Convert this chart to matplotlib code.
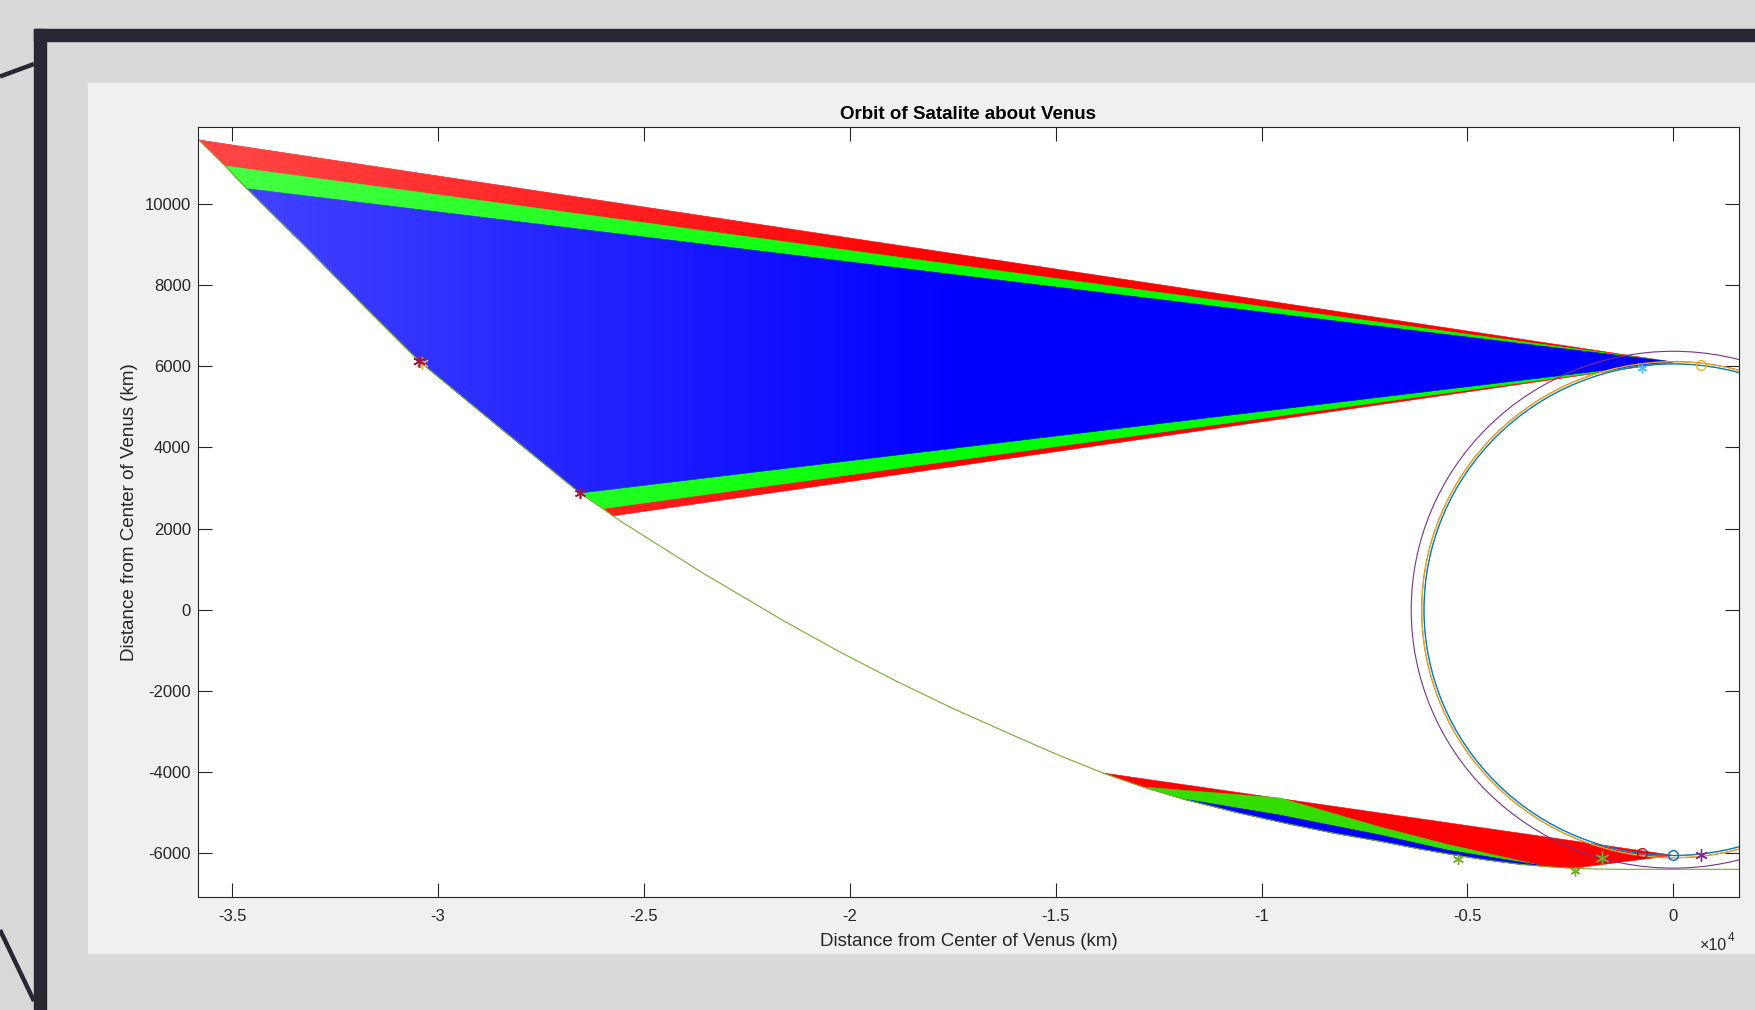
import numpy as np
import matplotlib
matplotlib.use('Agg')
import matplotlib.pyplot as plt
from matplotlib.patches import Rectangle, Circle, Polygon

plt.rcParams['font.family'] = ['Liberation Sans', 'DejaVu Sans']
plt.rcParams['axes.unicode_minus'] = False

# MATLAB default colour order
M_BLUE = (0.000, 0.447, 0.741)
M_ORANGE = (0.850, 0.325, 0.098)
M_YELLOW = (0.929, 0.694, 0.125)
M_PURPLE = (0.494, 0.184, 0.556)
M_GREEN = (0.466, 0.674, 0.188)
M_CYAN = (0.301, 0.745, 0.933)
M_DRED = (0.635, 0.078, 0.184)

# Satellite trajectory (km)
traj_x = [-35806, -35170, -34640, -33135, -31799, -30463, -28508, -26553, -25995,
          -25752, -25533, -23565, -21598, -20238, -18878, -17518, -16158, -15005,
          -13851, -12879, -11908, -10608, -9309, -8216, -7123, -6200, -5278,
          -4500, -3723, -3080, -2436, -1865, -1295, 1596]
traj_y = [11569, 10929, 10370, 8860, 7480, 6126, 4490, 2874, 2490,
          2310, 2160, 900, -278, -1042, -1756, -2422, -3037, -3550,
          -4022, -4367, -4662, -4994, -5285, -5510, -5704, -5887, -6049,
          -6170, -6271, -6328, -6369, -6387, -6394, -6394]

# Upper line-of-sight fan: apex and trajectory range of each colour
up_apex = (0, 6100)
up_red = (-35806, -25752)
up_green = (-35170, -25995)
up_blue = (-34640, -26553)

# Lower fan
low_apex = (0, -6050)
low_red = (-13851, -2436)
low_green = (-12879, -3723)
low_blue = (-11908, -3723)
band_end = (-3237, -6296)
green_top_x = [-9552, -7123, -5496]
green_top_y = [-4638, -5352, -5778]
blue_top_x = [-9552, -7123, -5496]
blue_top_y = [-5060, -5549, -5919]

# Orbit circles about the centre of Venus (km)
circle_r = [6365, 6112, 6105, 6060, 6052]
circle_c = [M_PURPLE, M_ORANGE, M_YELLOW, M_CYAN, M_BLUE]

# Point markers
mk_x = [-30390, -30463, -30463, -26553, -26553, -760, 680, -760, 0, 680, -1735, -2380, -5230]
mk_y = [6070, 6126, 6126, 2874, 2874, 5950, 6024, -6000, -6050, -6050, -6124, -6443, -6142]
mk_c = [M_YELLOW, M_PURPLE, M_DRED, M_PURPLE, M_DRED, M_CYAN, M_YELLOW, M_DRED, M_BLUE,
        M_PURPLE, M_GREEN, M_GREEN, M_GREEN]
mk_m = ['*', '*', '*', '*', '*', '*', 'o', 'o', 'o', '*', '*', '*', '*']
mk_s = [9, 9, 9, 8, 8, 7, 7, 7, 7, 9, 10, 7, 8]

xticks = [-35000, -30000, -25000, -20000, -15000, -10000, -5000, 0]
xtick_labels = ['-3.5', '-3', '-2.5', '-2', '-1.5', '-1', '-0.5', '0']
yticks = [-6000, -4000, -2000, 0, 2000, 4000, 6000, 8000, 10000]

XLIM = (-35830, 1596)
YLIM = (-7076, 11889)

W, H = 1756, 1010
fig = plt.figure(figsize=(W / 100, H / 100), dpi=100)

# Slide background drawn in pixel coordinates
bg = fig.add_axes([0, 0, 1, 1])
bg.set_xlim(0, W)
bg.set_ylim(H, 0)
bg.axis('off')
bg.add_patch(Rectangle((0, 0), W, H, color='#d9d9d9'))
frame = '#282832'
bg.add_patch(Rectangle((34, 29), W - 34, 12, color=frame))
bg.add_patch(Rectangle((34, 29), 12, H - 29, color=frame))
bg.plot([0, 34], [76.5, 64], color=frame, lw=3.2, solid_capstyle='butt')
bg.plot([0, 34], [930, 1001], color=frame, lw=3.2, solid_capstyle='butt')
bg.add_patch(Rectangle((88, 83), W - 88, 953 - 83, color='#f0f0f0'))
bg.text(1727, 950, '\u00d710', fontsize=11.5, color='#262626', ha='right', va='baseline')
bg.text(1728, 941, '4', fontsize=8.5, color='#262626', ha='left', va='baseline')

ax = fig.add_axes([198 / W, 1 - 897 / H, 1541 / W, 770 / H])
ax.set_facecolor('white')


def curve_pts(x0, x1):
    return [(x, y) for x, y in zip(traj_x, traj_y) if x0 <= x <= x1]


def fan(apex, rng, color):
    pts = [apex] + curve_pts(*rng)
    ax.add_patch(Polygon(pts, closed=True, facecolor=color, edgecolor=color,
                         lw=0.4, zorder=1))


def band(rng, top_x, top_y, color):
    pts = curve_pts(*rng) + [band_end] + list(zip(top_x, top_y))[::-1]
    ax.add_patch(Polygon(pts, closed=True, facecolor=color, edgecolor=color,
                         lw=0.4, zorder=1))


fan(up_apex, up_red, '#ff0000')
fan(up_apex, up_green, '#00ff00')
fan(up_apex, up_blue, '#0000ff')

# the far end of the upper fan is made of separate thin lines, so it reads lighter
gx, gy = np.meshgrid(np.linspace(*XLIM, 400), np.linspace(*YLIM, 200))
sheen = np.ones(gx.shape + (4,))
sheen[..., 3] = 0.27 * np.clip((-gx - 17000) / 18000, 0, 1)
im = ax.imshow(sheen, extent=(*XLIM, *YLIM), origin='lower', aspect='auto',
               interpolation='bilinear', zorder=1.5)
im.set_clip_path(Polygon([up_apex] + curve_pts(*up_red), closed=True,
                         transform=ax.transData))

fan(low_apex, low_red, '#ff0000')
band(low_green, green_top_x, green_top_y, '#33dd00')
band(low_blue, blue_top_x, blue_top_y, '#0000ff')

ax.plot(traj_x, traj_y, color=M_GREEN, lw=0.8, zorder=2)

for r, c in zip(circle_r, circle_c):
    ax.add_patch(Circle((0, 0), r, fill=False, edgecolor=c, lw=0.8, zorder=3))

for x, y, c, m, s in zip(mk_x, mk_y, mk_c, mk_m, mk_s):
    if m == '*':
        ax.plot(x, y, marker=(6, 2, 0), color=c, ms=s, mew=1.0, zorder=4)
    else:
        ax.plot(x, y, marker='o', mfc='none', mec=c, ms=s, mew=1.0, zorder=4)

ax.set_xlim(*XLIM)
ax.set_ylim(*YLIM)
ax.set_xticks(xticks)
ax.set_xticklabels(xtick_labels)
ax.set_yticks(yticks)
ax.tick_params(direction='in', length=10, width=0.8, top=True, right=True,
               colors='#262626', labelsize=12)
ax.tick_params(axis='x', pad=8.6)
ax.tick_params(axis='y', pad=5)
for s in ax.spines.values():
    s.set_color('#262626')
    s.set_linewidth(0.8)

ax.set_title('Orbit of Satalite about Venus', fontsize=13.5, fontweight='bold',
             color='black', pad=6)
ax.set_xlabel('Distance from Center of Venus (km)', fontsize=13.5, color='#262626',
              labelpad=6.5)
ax.set_ylabel('Distance from Center of Venus (km)', fontsize=13.5, color='#262626',
              labelpad=5)

fig.savefig('out.png', dpi=100)
